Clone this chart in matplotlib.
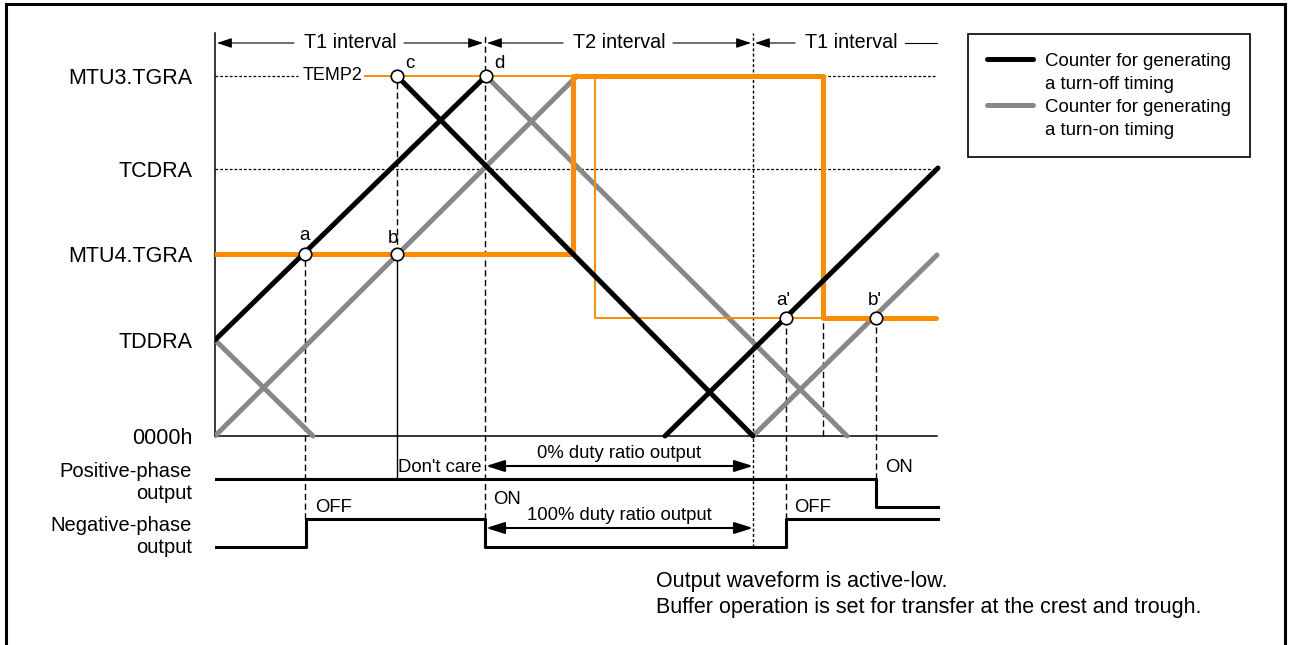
import matplotlib.pyplot as plt
from matplotlib.patches import Rectangle
from matplotlib.lines import Line2D

plt.rcParams['font.family'] = ['Liberation Sans', 'DejaVu Sans']

ORANGE = '#FF8C00'
GREY = '#888888'

# counter register levels (counts)
level_names = ["MTU3.TGRA", "TCDRA", "MTU4.TGRA", "TDDRA", "0000h"]
level_values = [360, 267, 182, 96, 0]
output_names = ["Positive-phase\noutput", "Negative-phase\noutput"]
output_label_pos = [-43, -97]

# counter for turn-off timing (black), one list per ramp
off_t = [[0, 271], [182, 538], [450, 723]]
off_v = [[96, 360], [360, 0], [0, 268]]
# counter for turn-on timing (grey)
on_t = [[0, 98], [0, 362], [271, 632], [538, 722]]
on_v = [[96, 0], [0, 360], [360, 0], [0, 181]]

# compare register (thick) and TEMP2 buffer (thin)
buf_t = [0, 358, 358, 608, 608, 721]
buf_v = [182, 182, 360, 360, 118, 118]
temp_t = [150, 380, 380, 608]
temp_v = [360, 360, 118, 118]

# output waveforms
pos_t = [0, 661, 661, 723]
pos_v = [-43, -43, -71, -71]
neg_t = [0, 91, 91, 270, 270, 571, 571, 723]
neg_v = [-111, -111, -83, -83, -111, -111, -83, -83]

# compare match points
match_names = ["a", "b", "c", "d", "a'", "b'"]
match_t = [90, 182, 182, 271, 571, 661]
match_v = [182, 182, 360, 360, 118, 118]

# vertical guide lines
guide_t = [90, 182, 182, 270, 538, 571, 608, 661]
guide_top = [182, 360, 182, 403, 403, 118, 118, 118]
guide_bot = [-83, 182, -43, -83, -111, -83, 0, -43]
guide_style = ['dash', 'dash', 'solid', 'dash', 'dot', 'dash', 'dash', 'dash']

# dotted reference lines
ref_t = [[0, 83], [608, 722], [0, 722]]
ref_v = [360, 360, 267]

interval_edges = [0, 270, 538, 722]
interval_names = ["T1 interval", "T2 interval", "T1 interval"]

fig = plt.figure(figsize=(12.89, 6.45), dpi=100)
ax = fig.add_axes([215 / 1289, 0, 1 - 215 / 1289, 1])
ax.set_xlim(0, 1074)
ax.set_ylim(-209, 436)
ax.patch.set_visible(False)

for s in ['top', 'right']:
    ax.spines[s].set_visible(False)
ax.spines['left'].set_bounds(0, 403)
ax.spines['bottom'].set_position(('data', 0))
ax.spines['bottom'].set_bounds(0, 722)
for s in ['left', 'bottom']:
    ax.spines[s].set_linewidth(1.1)
ax.set_xticks([])
ax.set_yticks(level_values + output_label_pos, level_names + output_names)
ax.tick_params(axis='y', length=0, pad=16.5, labelsize=15.5)
for lbl in ax.get_yticklabels()[5:]:
    lbl.set_fontsize(14.5)
    lbl.set_linespacing(1.2)

dot = (0, (2.2, 1.6))
dash = (0, (4.5, 2.5))
for t, v in zip(ref_t, ref_v):
    ax.plot(t, [v, v], color='black', lw=0.9, ls=dot, zorder=1)
styles = {'dash': dash, 'dot': dot, 'solid': '-'}
for t, top, bot, st in zip(guide_t, guide_top, guide_bot, guide_style):
    ax.vlines(t, bot, top, color='black', lw=1.0, linestyles=[styles[st]], zorder=1)

for t, v in zip(on_t, on_v):
    ax.plot(t, v, color=GREY, lw=3.6, solid_capstyle='round', zorder=3)
ax.plot(temp_t, temp_v, color=ORANGE, lw=1.4, zorder=4)
ax.plot(buf_t, buf_v, color=ORANGE, lw=3.6, solid_capstyle='round', zorder=4)
for t, v in zip(off_t, off_v):
    ax.plot(t, v, color='black', lw=3.6, solid_capstyle='round', zorder=5)

ax.plot(pos_t, pos_v, color='black', lw=2.2, zorder=3)
ax.plot(neg_t, neg_v, color='black', lw=2.2, zorder=3)

ax.plot(match_t, match_v, 'o', ms=9, mfc='white', mec='black', mew=1.2, zorder=10)
label_dx = [0, -4, 8, 8, -3, -1]
label_dy = [14, 11, 8, 8, 13, 13]
label_ha = ['center', 'center', 'left', 'left', 'center', 'center']
for n, t, v, dx, dy, ha in zip(match_names, match_t, match_v, label_dx, label_dy, label_ha):
    ax.text(t + dx, v + dy, n, fontsize=13.5, ha=ha, va='baseline')

ax.text(147, 360, "TEMP2", fontsize=12.9, ha='right', va='center')

# interval arrows
head = '-|>,head_length=0.6,head_width=0.2'
y_int = 393
for i, name in enumerate(interval_names):
    lo, hi = interval_edges[i], interval_edges[i + 1]
    mid = (lo + hi) / 2 if i < 2 else 636
    ax.text(mid, y_int, name, fontsize=14.2, ha='center', va='center')
    ax.annotate('', xy=(lo + 2, y_int), xytext=(mid - 56, y_int),
                arrowprops=dict(arrowstyle=head, lw=0.8, color='black',
                                shrinkA=0, shrinkB=0, mutation_scale=15))
    if i < 2:
        ax.annotate('', xy=(hi - 2, y_int), xytext=(mid + 54, y_int),
                    arrowprops=dict(arrowstyle=head, lw=0.8, color='black',
                                    shrinkA=0, shrinkB=0, mutation_scale=15))
    else:
        ax.plot([mid + 54, hi], [y_int, y_int], color='black', lw=0.8)

# duty ratio arrows
duty_names = ["0% duty ratio output", "100% duty ratio output"]
duty_y = [-30, -92]
for name, y in zip(duty_names, duty_y):
    ax.annotate('', xy=(271, y), xytext=(538, y),
                arrowprops=dict(arrowstyle='<|-|>,head_length=0.7,head_width=0.22',
                                lw=1.5, color='black', shrinkA=0, shrinkB=0,
                                mutation_scale=16))
    ax.text(404.5, y + 13, name, fontsize=13.3, ha='center', va='center')

ax.text(267, -31, "Don't care", fontsize=13.3, ha='right', va='center')
ax.text(278, -64, "ON", fontsize=13.3, ha='left', va='center')
ax.text(670, -31, "ON", fontsize=13.3, ha='left', va='center')
ax.text(100, -72, "OFF", fontsize=13.3, ha='left', va='center')
ax.text(579, -72, "OFF", fontsize=13.3, ha='left', va='center')

ax.text(441, -146, "Output waveform is active-low.", fontsize=15.5, va='center')
ax.text(441, -172, "Buffer operation is set for transfer at the crest and trough.",
        fontsize=15.5, va='center')

handles = [Line2D([], [], color='black', lw=3.6, solid_capstyle='round'),
           Line2D([], [], alpha=0),
           Line2D([], [], color=GREY, lw=3.6, solid_capstyle='round'),
           Line2D([], [], alpha=0)]
labels = ["Counter for generating", "a turn-off timing",
          "Counter for generating", "a turn-on timing"]
leg = ax.legend(handles, labels, loc='upper left', bbox_to_anchor=(753, 402),
                bbox_transform=ax.transData, borderaxespad=0, fontsize=13.4,
                handlelength=2.5, handletextpad=0.65, borderpad=1.0,
                labelspacing=0.32, fancybox=False, framealpha=1, edgecolor='black')
leg.get_frame().set_linewidth(1.2)

fig.add_artist(Rectangle((5.5 / 1289, -0.05), (1285 - 5.5) / 1289, 1.05 - 3.5 / 645,
                         fill=False, lw=2.2, edgecolor='black',
                         transform=fig.transFigure, clip_on=False))

fig.savefig('out.png', dpi=100)
